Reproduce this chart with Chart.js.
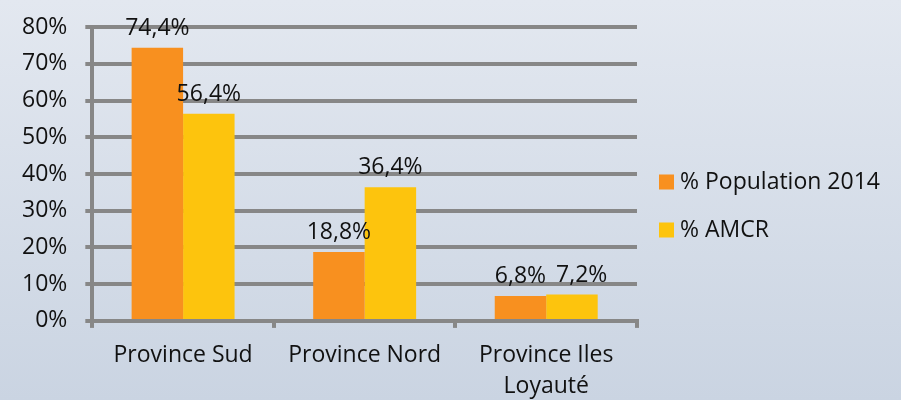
<!DOCTYPE html>
<html>
<head>
<meta charset="utf-8">
<script src="https://cdn.jsdelivr.net/npm/chart.js@4/dist/chart.umd.min.js"></script>
<style>
  html, body { margin: 0; padding: 0; }
  body {
    width: 901px; height: 400px; overflow: hidden;
    background: linear-gradient(to bottom, #e3e8f0, #cad4e2);
  }
  #wrap { width: 901px; height: 400px; position: relative; }
</style>
</head>
<body>
<div id="wrap"><canvas id="chart"></canvas></div>
<script>
// données
const provinces = ['Province Sud', 'Province Nord', ['Province Iles', 'Loyauté']];
const popValues = [74.4, 18.8, 6.8];
const amcrValues = [56.4, 36.4, 7.2];
const seriesNames = ['% Population 2014', '% AMCR'];
const seriesColors = ['#f8901f', '#fdc40d'];
const yTicksMax = 80;

const FONT = 'Open Sans';
const SIZE = 23;
const GRID = '#878787';

// étiquettes au-dessus des barres (décalées si elles se chevauchent)
const barLabels = {
  id: 'barLabels',
  afterDatasetsDraw(chart) {
    const ctx = chart.ctx;
    ctx.save();
    ctx.font = SIZE + 'px "' + FONT + '"';
    ctx.fillStyle = '#111';
    ctx.textAlign = 'center';
    ctx.textBaseline = 'bottom';
    const lastRight = {};
    chart.data.datasets.forEach((ds, i) => {
      chart.getDatasetMeta(i).data.forEach((bar, j) => {
        const txt = ds.data[j].toFixed(1).replace('.', ',') + '%';
        const w = ctx.measureText(txt).width;
        let x = bar.x;
        const y = bar.y - 8;
        const prev = lastRight[j];
        if (prev && Math.abs(prev.y - y) < SIZE && x - w / 2 < prev.right + 10) {
          x = prev.right + 10 + w / 2;
        }
        ctx.fillText(txt, x, y);
        lastRight[j] = { right: x + w / 2, y };
      });
    });
    ctx.restore();
  }
};

// légende à droite (celle de Chart.js est tronquée)
const sideLegend = {
  id: 'sideLegend',
  afterDraw(chart) {
    const ctx = chart.ctx;
    const x = chart.chartArea.right + 22;
    let y = chart.height / 2 + 6 - 24;
    ctx.save();
    ctx.font = SIZE + 'px "' + FONT + '"';
    ctx.textBaseline = 'middle';
    ctx.textAlign = 'left';
    chart.data.datasets.forEach(ds => {
      ctx.fillStyle = ds.backgroundColor;
      ctx.fillRect(x, y - 7.5, 15, 15);
      ctx.fillStyle = '#111';
      ctx.fillText(ds.label, x + 21, y);
      y += 48;
    });
    ctx.restore();
  }
};

function draw() {
  new Chart(document.getElementById('chart'), {
    type: 'bar',
    data: {
      labels: provinces,
      datasets: [
        { label: seriesNames[0], data: popValues, backgroundColor: seriesColors[0] },
        { label: seriesNames[1], data: amcrValues, backgroundColor: seriesColors[1] }
      ]
    },
    options: {
      responsive: true,
      maintainAspectRatio: false,
      animation: false,
      layout: { padding: { top: 24, left: 4, right: 264, bottom: -14 } },
      datasets: { bar: { categoryPercentage: 0.567, barPercentage: 1 } },
      scales: {
        x: {
          grid: { drawOnChartArea: false, drawTicks: true, tickLength: 7, color: GRID, lineWidth: 4 },
          border: { color: GRID, width: 4 },
          ticks: { color: '#111', font: { family: FONT, size: SIZE, lineHeight: 1.35 }, padding: 12 }
        },
        y: {
          min: 0, max: yTicksMax,
          grid: { color: GRID, lineWidth: 4, tickLength: 7 },
          border: { color: GRID, width: 4 },
          ticks: { stepSize: 10, color: '#111', font: { family: FONT, size: SIZE, lineHeight: 0.8 }, padding: 18,
                   callback: v => v + '%' }
        }
      },
      plugins: {
        legend: { display: false },
        tooltip: { enabled: false }
      }
    },
    plugins: [barLabels, sideLegend]
  });
}

document.fonts.load(SIZE + 'px "' + FONT + '"').then(draw, draw);
</script>
</body>
</html>
